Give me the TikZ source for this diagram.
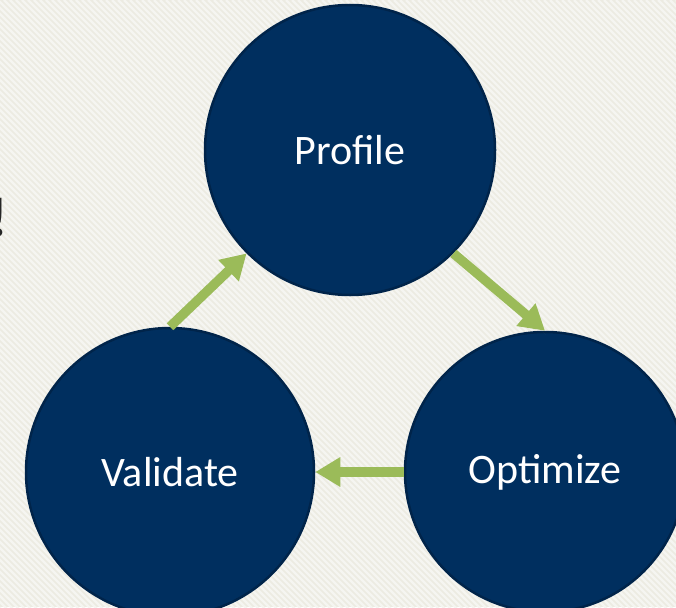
\documentclass[tikz,border=0pt]{standalone}
\usepackage{fontspec}
\setmainfont{Carlito}
\usetikzlibrary{arrows.meta,shadows}

\definecolor{paper}{HTML}{ECEBE2}
\definecolor{paperline}{HTML}{F5F5F1}
\definecolor{navy}{HTML}{002F5F}
\definecolor{navyrim}{HTML}{00244A}
\definecolor{leaf}{HTML}{9BBB59}

\begin{document}
\begin{tikzpicture}[
  x=1pt,y=-1pt,
  stage/.style={circle,fill=navy,draw=navyrim,line width=2.5pt,
    minimum size=#1,inner sep=0pt,text=white,
    font=\fontsize{42}{50}\selectfont},
  flow/.style={leaf,line width=9.5pt,
    -{Triangle[width=28pt,length=25pt]},
    drop shadow={shadow xshift=1pt,shadow yshift=-4pt,opacity=0.2}},
  stripe/.style={paperline,line width=2.2pt}]

  % backdrop with fine diagonal weave
  \useasboundingbox (0,0) rectangle (676,607);
  \clip (0,0) rectangle (676,607);
  \fill[paper] (0,0) rectangle (676,607);
  \foreach \i in {-620,-614,...,680} \draw[stripe] (\i,0)--++(620,620);

  % cut-off mark on the left
  \node[anchor=east,inner sep=0pt,text=black!85,
    font=\fontsize{56}{60}\selectfont\bfseries] (bang) at (8,218) {!};

  \node[stage=290pt] (profile)  at (350,150) {Profile};
  \node[stage=288pt] (validate) at (170,472) {Validate};
  \node[stage=280pt] (optimize) at (545,472) {Optimize};

  \draw[flow] (validate.north) -- (profile.225);
  \draw[flow] (profile.-45) -- (optimize.north);
  \draw[flow] (optimize.west) -- (validate.east);
\end{tikzpicture}
\end{document}
